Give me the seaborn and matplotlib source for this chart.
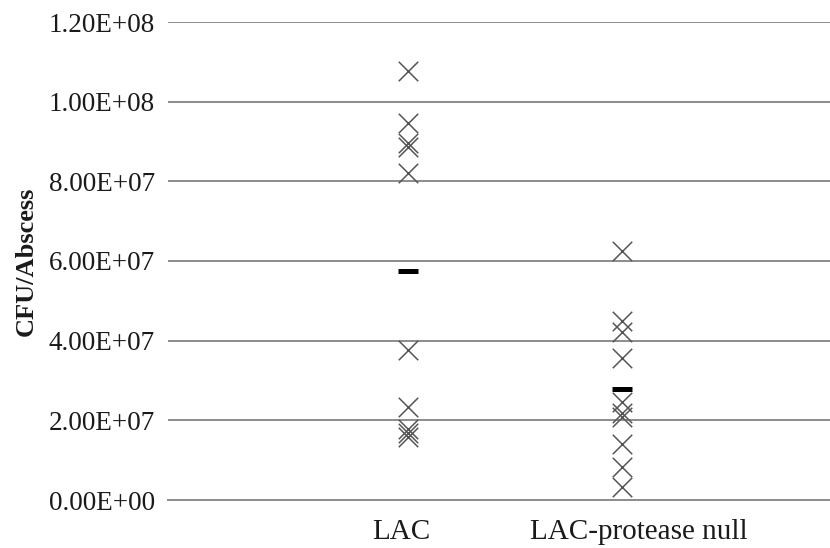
import numpy as np
import pandas as pd
import matplotlib
matplotlib.use("Agg")
import matplotlib.pyplot as plt
import seaborn as sns

# CFU counts recovered per abscess for each strain
strains = ["LAC", "LAC-protease null"]
lac_cfu = [1.078e8, 9.46e7, 8.97e7, 8.85e7, 8.21e7, 3.77e7, 2.33e7, 1.78e7, 1.68e7, 1.57e7]
null_cfu = [6.26e7, 4.50e7, 4.22e7, 3.56e7, 2.46e7, 2.19e7, 2.09e7, 1.41e7, 8.3e6, 3.2e6]
y_ticks = [0, 2e7, 4e7, 6e7, 8e7, 1e8, 1.2e8]
y_tick_labels = ["0.00E+00", "2.00E+07", "4.00E+07", "6.00E+07", "8.00E+07", "1.00E+08", "1.20E+08"]

df = pd.DataFrame({
    "strain": [strains[0]] * len(lac_cfu) + [strains[1]] * len(null_cfu),
    "cfu": lac_cfu + null_cfu,
})

sns.set_theme(style="white")
plt.rcParams["font.family"] = ["Liberation Serif", "DejaVu Serif"]

W, H = 830, 548
left, right, top, bottom = 168, 830, 22, 500
fig = plt.figure(figsize=(W / 100, H / 100), dpi=100)
ax = fig.add_axes([left / W, 1 - bottom / H, (right - left) / W, (bottom - top) / H])

# individual abscesses
sns.stripplot(data=df, x="strain", y="cfu", order=strains, jitter=False,
              marker="x", s=14, linewidth=1.1, color="#555555", ax=ax, zorder=3)

# group means as short bars
sns.pointplot(data=df, x="strain", y="cfu", order=strains, estimator="mean",
              errorbar=None, linestyle="none", marker="_", markersize=13.7,
              markeredgewidth=3.6, color="black", ax=ax, zorder=4)

ax.set_ylim(0, 1.2e8)
ax.set_xlim((left - 408) / 214, (right - 408) / 214)
ax.set_yticks(y_ticks)
ax.set_yticklabels(y_tick_labels)
ax.set_xticks([-0.03, 1.08])
ax.set_xticklabels(strains)

ax.grid(axis="y", color="#8c8c8c", linewidth=1.4)
ax.grid(axis="x", visible=False)
ax.set_axisbelow(True)
for side in ["left", "right", "top"]:
    ax.spines[side].set_visible(False)
ax.spines["bottom"].set_color("#8c8c8c")
ax.spines["bottom"].set_linewidth(1.4)

ax.tick_params(axis="y", length=0, pad=9.5, labelsize=19.5, labelcolor="#1a1a1a")
ax.tick_params(axis="x", length=0, pad=14, labelsize=21, labelcolor="#1a1a1a")

ax.set_xlabel("")
ax.set_ylabel("CFU/Abscess", fontsize=19, fontweight="bold", color="#1a1a1a")
ax.yaxis.set_label_coords((38 - left) / (right - left), 0.5)

fig.savefig("out.png", dpi=100)
